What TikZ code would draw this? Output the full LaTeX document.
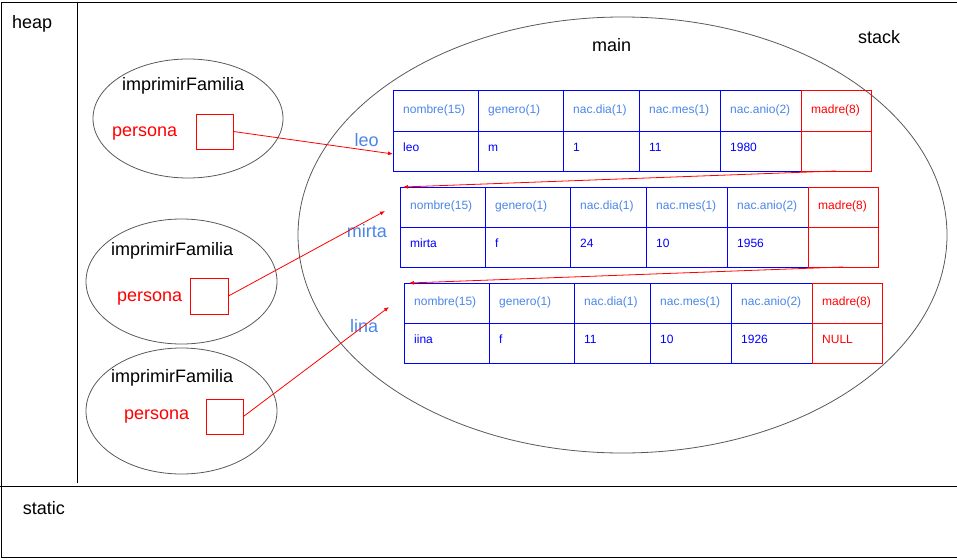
\documentclass[tikz,border=0pt]{standalone}
\usepackage{fontspec}
\setmainfont{Liberation Sans}
\usetikzlibrary{shapes.geometric,calc,arrows.meta}

\definecolor{azul}{HTML}{0000FF}
\definecolor{celeste}{HTML}{4A86E8}
\definecolor{rojo}{HTML}{FF0000}
\definecolor{gris}{HTML}{595959}

\tikzset{
  grande/.style={font=\fontsize{18}{20}\selectfont, anchor=base west, inner sep=0pt},
  chica/.style={font=\fontsize{12}{14}\selectfont, anchor=base west, inner sep=0pt},
  celda/.style={draw=azul, line width=1pt, minimum height=40pt, inner sep=0pt, outer sep=0pt, anchor=north west},
  marco/.style={draw=gris, line width=0.8pt, ellipse, inner sep=0pt},
  caja/.style={draw=rojo, line width=0.9pt, inner sep=0pt},
  puntero/.style={draw=rojo, line width=0.8pt, -{Latex[length=5pt,width=4pt]}}
}

% una fila de la tabla de personas
\newcommand{\registro}[7]{%
  \foreach \dx/\w/\campo/\valor [count=\i] in {0/85/nombre(15)/#3, 85/85/genero(1)/#4,
      170/76/nac.dia(1)/#5, 246/81/nac.mes(1)/#6, 327/81/nac.anio(2)/#7} {
    \node[celda, minimum width=\w pt] (#1-h\i) at ($(#2)+(\dx,0)$) {};
    \node[celda, minimum width=\w pt] (#1-d\i) at ($(#2)+(\dx,40)$) {};
    \node[chica, text=celeste] (#1-th\i) at ([xshift=10pt,yshift=-2.3pt]#1-h\i.west) {\campo};
    \node[chica, text=azul] (#1-td\i) at ([xshift=10pt,yshift=-0.7pt]#1-d\i.west) {\valor};
  }
  \node[celda, draw=rojo, minimum width=70pt] (#1-hm) at ($(#2)+(408,0)$) {};
  \node[celda, draw=rojo, minimum width=70pt] (#1-dm) at ($(#2)+(408,40)$) {};
  \node[chica, text=rojo] (#1-thm) at ([xshift=10pt,yshift=-2.3pt]#1-hm.west) {madre(8)};
}

\begin{document}
\begin{tikzpicture}[x=1pt, y=-1pt]
  \useasboundingbox (0,0) rectangle (957,559);

  % zonas de memoria
  \draw[line width=0.9pt] (957,2) -- (1,2) -- (1,557.5) -- (957,557.5);
  \draw[line width=0.9pt] (0,486) -- (957,486);
  \draw[line width=0.9pt] (77,2) -- (77,483);
  \node[grande] (heap) at (12,28.5) {heap};
  \node[grande] (static) at (22.6,514) {static};
  \node[grande] (stack) at (858,44) {stack};

  % main
  \node[marco, minimum width=649pt, minimum height=436pt] (main) at (622.5,235) {};
  \node[grande] (tmain) at (592,52) {main};

  \registro{leo}{393,91}{leo}{m}{1}{11}{1980}
  \registro{mirta}{400,187}{mirta}{f}{24}{10}{1956}
  \registro{lina}{404,283}{iina}{f}{11}{10}{1926}
  \node[chica, text=rojo] (null) at ([xshift=10pt,yshift=-0.7pt]lina-dm.west) {NULL};

  \node[grande, text=celeste] (lleo) at (354.3,146.7) {leo};
  \node[grande, text=celeste] (lmirta) at (346.7,237.3) {mirta};
  \node[grande, text=celeste] (llina) at (350,332.3) {lina};

  % llamadas a imprimirFamilia
  \node[marco, minimum width=190pt, minimum height=119pt] (f1) at (188,118.5) {};
  \node[marco, minimum width=191pt, minimum height=125pt] (f2) at (181.5,281.5) {};
  \node[marco, minimum width=191pt, minimum height=126pt] (f3) at (181.5,411) {};

  \node[grande] (n1) at (122,91) {imprimirFamilia};
  \node[grande] (n2) at (111,255) {imprimirFamilia};
  \node[grande] (n3) at (111,382.3) {imprimirFamilia};

  \node[grande, text=rojo] (t1) at (112,136) {persona};
  \node[grande, text=rojo] (t2) at (117,301) {persona};
  \node[grande, text=rojo] (t3) at (124,419) {persona};

  \node[caja, minimum width=37pt, minimum height=35pt] (p1) at (214.5,131.5) {};
  \node[caja, minimum width=38pt, minimum height=36pt] (p2) at (209,296) {};
  \node[caja, minimum width=37pt, minimum height=35pt] (p3) at (224.5,416.5) {};

  % punteros
  \coordinate (mirta-ptr) at (385,211);
  \coordinate (lina-ptr) at (389,307);
  \draw[puntero] (p1.east) -- ([yshift=-3pt]leo-d1.west);
  \draw[puntero] (p2.east) -- (mirta-ptr);
  \draw[puntero] (p3.east) -- (lina-ptr);
  \draw[puntero] (leo-dm.south) -- ([xshift=3pt]mirta-h1.north west);
  \draw[puntero] (mirta-dm.south) -- ([xshift=5pt]lina-h1.north west);
\end{tikzpicture}
\end{document}
